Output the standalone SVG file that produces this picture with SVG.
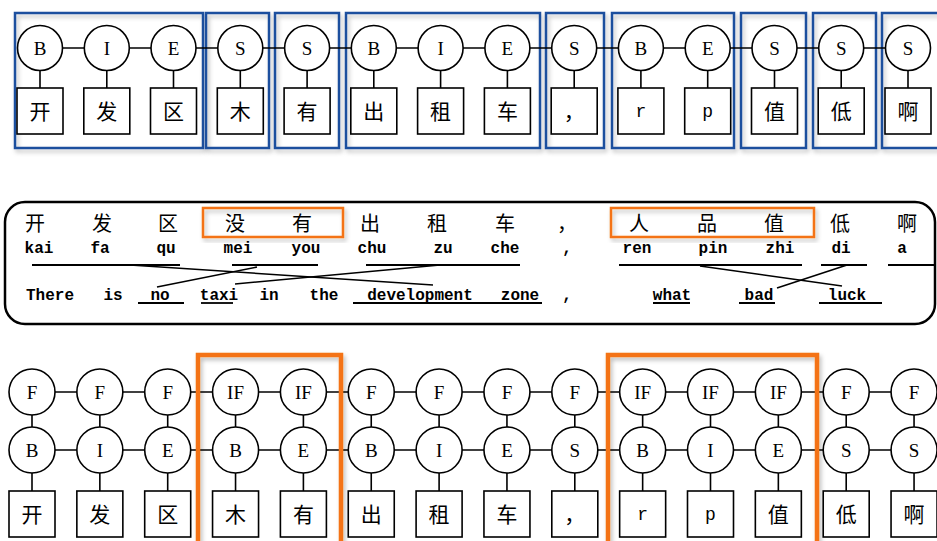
<svg xmlns="http://www.w3.org/2000/svg" width="937" height="541" viewBox="0 0 937 541">
<defs>
<filter id="sh" x="-10%" y="-10%" width="130%" height="130%">
<feDropShadow dx="2" dy="3" stdDeviation="2" flood-color="#000" flood-opacity="0.25"/>
</filter>
<style>
.c{fill:#fff;stroke:#000;stroke-width:1.6}
.b{fill:#fff;stroke:#000;stroke-width:1.6}
.l{stroke:#000;stroke-width:1.6;fill:none}
.lt{font-family:"Liberation Serif",serif;font-size:19px;text-anchor:middle;fill:#000}
.cj{font-family:"Noto Sans CJK SC",sans-serif;font-size:20px;text-anchor:middle;fill:#000}
.cb{font-family:"Noto Sans CJK SC",sans-serif;font-size:21px;text-anchor:middle;fill:#000}
.mo{font-family:"Liberation Mono",monospace;font-size:16px;font-weight:bold;text-anchor:middle;fill:#000}
.mb{font-family:"Liberation Mono",monospace;font-size:18px;text-anchor:middle;fill:#000}
.blue{fill:none;stroke:#1f4f9e;stroke-width:2.5;filter:url(#sh)}
.or{fill:none;stroke:#f47317;stroke-width:2.5;filter:url(#sh)}
.orb{fill:none;stroke:#f47317;stroke-width:4.5;filter:url(#sh)}
.ul{stroke:#000;stroke-width:1.8}
.xl{stroke:#000;stroke-width:1.6}
</style>
</defs>
<rect width="937" height="541" fill="#fff"/>

<!-- TOP ROW -->
<g id="top-groups">
<rect class="blue" x="15" y="13" width="188" height="135"/>
<rect class="blue" x="206" y="13" width="63" height="135"/>
<rect class="blue" x="275" y="13" width="64" height="135"/>
<rect class="blue" x="346" y="13" width="194" height="135"/>
<rect class="blue" x="546" y="13" width="58" height="135"/>
<rect class="blue" x="612" y="13" width="122" height="135"/>
<rect class="blue" x="741" y="13" width="65" height="135"/>
<rect class="blue" x="813" y="13" width="63" height="135"/>
<rect class="blue" x="882" y="13" width="60" height="135"/>
</g>
<g id="top-connectors">
<line class="l" x1="40" y1="48" x2="908" y2="48"/>
<path class="l" d="M40 70V88M106.8 70V88M173.5 70V88M240.3 70V88M307.1 70V88M373.8 70V88M440.6 70V88M507.4 70V88M574.2 70V88M640.9 70V88M707.7 70V88M774.5 70V88M841.2 70V88M908 70V88"/>
</g>
<g id="t0"><circle class="c" cx="40" cy="48" r="22.5"/><text class="lt" x="40" y="55">B</text><rect class="b" x="17" y="88" width="46" height="46"/><text class="cb" x="40" y="119">开</text></g>
<g id="t1"><circle class="c" cx="106.8" cy="48" r="22.5"/><text class="lt" x="106.8" y="55">I</text><rect class="b" x="83.8" y="88" width="46" height="46"/><text class="cb" x="106.8" y="119">发</text></g>
<g id="t2"><circle class="c" cx="173.5" cy="48" r="22.5"/><text class="lt" x="173.5" y="55">E</text><rect class="b" x="150.5" y="88" width="46" height="46"/><text class="cb" x="173.5" y="119">区</text></g>
<g id="t3"><circle class="c" cx="240.3" cy="48" r="22.5"/><text class="lt" x="240.3" y="55">S</text><rect class="b" x="217.3" y="88" width="46" height="46"/><text class="cb" x="240.3" y="119">木</text></g>
<g id="t4"><circle class="c" cx="307.1" cy="48" r="22.5"/><text class="lt" x="307.1" y="55">S</text><rect class="b" x="284.1" y="88" width="46" height="46"/><text class="cb" x="307.1" y="119">有</text></g>
<g id="t5"><circle class="c" cx="373.8" cy="48" r="22.5"/><text class="lt" x="373.8" y="55">B</text><rect class="b" x="350.8" y="88" width="46" height="46"/><text class="cb" x="373.8" y="119">出</text></g>
<g id="t6"><circle class="c" cx="440.6" cy="48" r="22.5"/><text class="lt" x="440.6" y="55">I</text><rect class="b" x="417.6" y="88" width="46" height="46"/><text class="cb" x="440.6" y="119">租</text></g>
<g id="t7"><circle class="c" cx="507.4" cy="48" r="22.5"/><text class="lt" x="507.4" y="55">E</text><rect class="b" x="484.4" y="88" width="46" height="46"/><text class="cb" x="507.4" y="119">车</text></g>
<g id="t8"><circle class="c" cx="574.2" cy="48" r="22.5"/><text class="lt" x="574.2" y="55">S</text><rect class="b" x="551.2" y="88" width="46" height="46"/><text class="cb" x="574.2" y="119">，</text></g>
<g id="t9"><circle class="c" cx="640.9" cy="48" r="22.5"/><text class="lt" x="640.9" y="55">B</text><rect class="b" x="617.9" y="88" width="46" height="46"/><text class="mb" x="640.9" y="117">r</text></g>
<g id="t10"><circle class="c" cx="707.7" cy="48" r="22.5"/><text class="lt" x="707.7" y="55">E</text><rect class="b" x="684.7" y="88" width="46" height="46"/><text class="mb" x="707.7" y="117">p</text></g>
<g id="t11"><circle class="c" cx="774.5" cy="48" r="22.5"/><text class="lt" x="774.5" y="55">S</text><rect class="b" x="751.5" y="88" width="46" height="46"/><text class="cb" x="774.5" y="119">值</text></g>
<g id="t12"><circle class="c" cx="841.2" cy="48" r="22.5"/><text class="lt" x="841.2" y="55">S</text><rect class="b" x="818.2" y="88" width="46" height="46"/><text class="cb" x="841.2" y="119">低</text></g>
<g id="t13"><circle class="c" cx="908" cy="48" r="22.5"/><text class="lt" x="908" y="55">S</text><rect class="b" x="885" y="88" width="46" height="46"/><text class="cb" x="908" y="119">啊</text></g>

<!-- MIDDLE ALIGNMENT -->
<g id="alignment">
<rect x="5" y="202" width="930" height="122" rx="20" ry="20" fill="none" stroke="#000" stroke-width="2.5"/>
<rect class="or" x="203" y="208" width="140" height="29"/>
<rect class="or" x="611" y="208" width="203" height="29"/>
<g class="cj">
<text x="35" y="231">开</text><text x="102" y="231">发</text><text x="168" y="231">区</text>
<text x="235" y="231">没</text><text x="302" y="231">有</text><text x="370" y="231">出</text>
<text x="437" y="231">租</text><text x="505" y="231">车</text><text x="567" y="231">，</text>
<text x="639" y="231">人</text><text x="707" y="231">品</text><text x="774" y="231">值</text>
<text x="840" y="231">低</text><text x="907" y="231">啊</text>
</g>
<g class="mo">
<text x="39" y="253">kai</text><text x="100" y="253">fa</text><text x="166" y="253">qu</text>
<text x="238" y="253">mei</text><text x="306" y="253">you</text><text x="372" y="253">chu</text>
<text x="443" y="253">zu</text><text x="505" y="253">che</text><text x="567" y="253">,</text>
<text x="637" y="253">ren</text><text x="713" y="253">pin</text><text x="780" y="253">zhi</text>
<text x="841" y="253">di</text><text x="902" y="253">a</text>
</g>
<g class="mo">
<text x="50" y="300">There</text><text x="113" y="300">is</text><text x="160" y="300">no</text>
<text x="219" y="300">taxi</text><text x="269" y="300">in</text><text x="324" y="300">the</text>
<text x="420" y="300">development</text><text x="520" y="300">zone</text><text x="567" y="300">,</text>
<text x="672" y="300">what</text><text x="759" y="300">bad</text><text x="847" y="300">luck</text>
</g>
</g>
<g id="alignment-links">
<line class="ul" x1="32" y1="265" x2="180" y2="265"/>
<line class="ul" x1="232" y1="265" x2="318" y2="265"/>
<line class="ul" x1="366" y1="265" x2="520" y2="265"/>
<line class="ul" x1="619" y1="265" x2="802" y2="265"/>
<line class="ul" x1="821" y1="265" x2="867" y2="265"/>
<line class="ul" x1="888" y1="265" x2="934" y2="265"/>
<line class="ul" x1="138" y1="303" x2="184" y2="303"/>
<line class="ul" x1="201" y1="303" x2="233" y2="303"/>
<line class="ul" x1="353" y1="303" x2="542" y2="303"/>
<line class="ul" x1="653" y1="303" x2="690" y2="303"/>
<line class="ul" x1="739" y1="303" x2="775" y2="303"/>
<line class="ul" x1="819" y1="303" x2="882" y2="303"/>
<line class="xl" x1="130" y1="265" x2="433" y2="285"/>
<line class="xl" x1="157" y1="287" x2="257" y2="267"/>
<line class="xl" x1="235" y1="284" x2="440" y2="265"/>
<line class="xl" x1="700" y1="266" x2="842" y2="286"/>
<line class="xl" x1="847" y1="265" x2="777" y2="288"/>
</g>

<!-- BOTTOM -->
<g id="bottom-connectors">
<line class="l" x1="32" y1="392" x2="914" y2="392"/>
<line class="l" x1="32" y1="450" x2="914" y2="450"/>
<path class="l" d="M32 392V491M99.85 392V491M167.7 392V491M235.55 392V491M303.4 392V491M371.25 392V491M439.1 392V491M506.95 392V491M574.8 392V491M642.65 392V491M710.5 392V491M778.35 392V491M846.2 392V491M914.05 392V491"/>
</g>
<g id="b0"><circle class="c" cx="32" cy="392" r="23"/><text class="lt" x="32" y="399">F</text><circle class="c" cx="32" cy="450" r="23"/><text class="lt" x="32" y="457">B</text><rect class="b" x="9" y="491" width="46" height="46"/><text class="cb" x="32" y="522">开</text></g>
<g id="b1"><circle class="c" cx="99.85" cy="392" r="23"/><text class="lt" x="99.85" y="399">F</text><circle class="c" cx="99.85" cy="450" r="23"/><text class="lt" x="99.85" y="457">I</text><rect class="b" x="76.85" y="491" width="46" height="46"/><text class="cb" x="99.85" y="522">发</text></g>
<g id="b2"><circle class="c" cx="167.7" cy="392" r="23"/><text class="lt" x="167.7" y="399">F</text><circle class="c" cx="167.7" cy="450" r="23"/><text class="lt" x="167.7" y="457">E</text><rect class="b" x="144.7" y="491" width="46" height="46"/><text class="cb" x="167.7" y="522">区</text></g>
<g id="b3"><circle class="c" cx="235.55" cy="392" r="23"/><text class="lt" x="235.55" y="399">IF</text><circle class="c" cx="235.55" cy="450" r="23"/><text class="lt" x="235.55" y="457">B</text><rect class="b" x="212.55" y="491" width="46" height="46"/><text class="cb" x="235.55" y="522">木</text></g>
<g id="b4"><circle class="c" cx="303.4" cy="392" r="23"/><text class="lt" x="303.4" y="399">IF</text><circle class="c" cx="303.4" cy="450" r="23"/><text class="lt" x="303.4" y="457">E</text><rect class="b" x="280.4" y="491" width="46" height="46"/><text class="cb" x="303.4" y="522">有</text></g>
<g id="b5"><circle class="c" cx="371.25" cy="392" r="23"/><text class="lt" x="371.25" y="399">F</text><circle class="c" cx="371.25" cy="450" r="23"/><text class="lt" x="371.25" y="457">B</text><rect class="b" x="348.25" y="491" width="46" height="46"/><text class="cb" x="371.25" y="522">出</text></g>
<g id="b6"><circle class="c" cx="439.1" cy="392" r="23"/><text class="lt" x="439.1" y="399">F</text><circle class="c" cx="439.1" cy="450" r="23"/><text class="lt" x="439.1" y="457">I</text><rect class="b" x="416.1" y="491" width="46" height="46"/><text class="cb" x="439.1" y="522">租</text></g>
<g id="b7"><circle class="c" cx="506.95" cy="392" r="23"/><text class="lt" x="506.95" y="399">F</text><circle class="c" cx="506.95" cy="450" r="23"/><text class="lt" x="506.95" y="457">E</text><rect class="b" x="483.95" y="491" width="46" height="46"/><text class="cb" x="506.95" y="522">车</text></g>
<g id="b8"><circle class="c" cx="574.8" cy="392" r="23"/><text class="lt" x="574.8" y="399">F</text><circle class="c" cx="574.8" cy="450" r="23"/><text class="lt" x="574.8" y="457">S</text><rect class="b" x="551.8" y="491" width="46" height="46"/><text class="cb" x="574.8" y="522">，</text></g>
<g id="b9"><circle class="c" cx="642.65" cy="392" r="23"/><text class="lt" x="642.65" y="399">IF</text><circle class="c" cx="642.65" cy="450" r="23"/><text class="lt" x="642.65" y="457">B</text><rect class="b" x="619.65" y="491" width="46" height="46"/><text class="mb" x="642.65" y="520">r</text></g>
<g id="b10"><circle class="c" cx="710.5" cy="392" r="23"/><text class="lt" x="710.5" y="399">IF</text><circle class="c" cx="710.5" cy="450" r="23"/><text class="lt" x="710.5" y="457">I</text><rect class="b" x="687.5" y="491" width="46" height="46"/><text class="mb" x="710.5" y="520">p</text></g>
<g id="b11"><circle class="c" cx="778.35" cy="392" r="23"/><text class="lt" x="778.35" y="399">IF</text><circle class="c" cx="778.35" cy="450" r="23"/><text class="lt" x="778.35" y="457">E</text><rect class="b" x="755.35" y="491" width="46" height="46"/><text class="cb" x="778.35" y="522">值</text></g>
<g id="b12"><circle class="c" cx="846.2" cy="392" r="23"/><text class="lt" x="846.2" y="399">F</text><circle class="c" cx="846.2" cy="450" r="23"/><text class="lt" x="846.2" y="457">S</text><rect class="b" x="823.2" y="491" width="46" height="46"/><text class="cb" x="846.2" y="522">低</text></g>
<g id="b13"><circle class="c" cx="914.05" cy="392" r="23"/><text class="lt" x="914.05" y="399">F</text><circle class="c" cx="914.05" cy="450" r="23"/><text class="lt" x="914.05" y="457">S</text><rect class="b" x="891.05" y="491" width="46" height="46"/><text class="cb" x="914.05" y="522">啊</text></g>
<g id="bottom-groups">
<rect class="orb" x="198" y="355" width="143" height="200"/>
<rect class="orb" x="608" y="355" width="209" height="200"/>
</g>
</svg>
